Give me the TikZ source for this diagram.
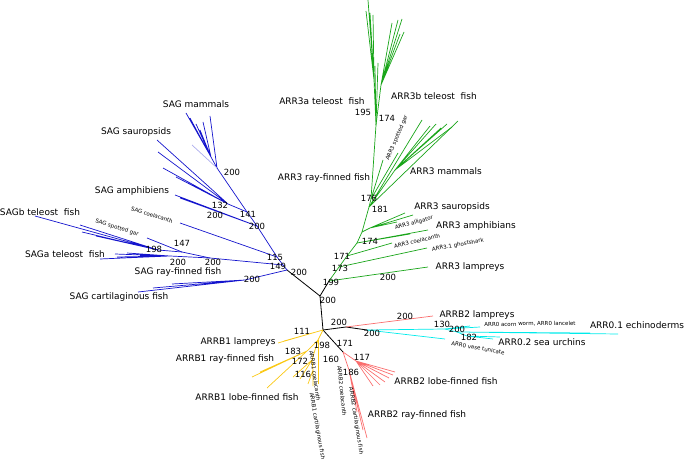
\documentclass[tikz,border=0pt]{standalone}
\usepackage{fontspec}
\setmainfont{DejaVu Sans}
\usepackage{tikz}
\usepackage{xcolor}

\definecolor{sagblue}{RGB}{20,20,205}
\definecolor{arrgreen}{RGB}{25,165,25}
\definecolor{bonered}{RGB}{250,110,110}
\definecolor{lampcyan}{RGB}{0,235,235}
\definecolor{bonegold}{RGB}{250,200,20}

\begin{document}
\begin{tikzpicture}[x=1pt, y=-1pt,
% common options for the clade labels:
clade/.style = {font=\fontsize{9}{10}\selectfont, inner sep=0},
% bootstrap values:
boot/.style = {font=\fontsize{8.5}{9}\selectfont, inner sep=0},
% small labels of single species:
spec/.style = {font=\fontsize{5.5}{6}\selectfont, inner sep=0},
% branches:
trunk/.style = {draw=black, line width=0.8pt},
sag/.style = {draw=sagblue, line width=0.7pt},
arr3/.style = {draw=arrgreen, line width=0.7pt},
arrbone/.style = {draw=bonegold, line width=0.7pt},
arrbtwo/.style = {draw=bonered, line width=0.7pt},
arrzero/.style = {draw=lampcyan, line width=0.7pt}]
\useasboundingbox (0,0) rectangle (685,462);

% centre
\coordinate (C) at (320,296);
\coordinate (S0) at (287,270);
\coordinate (A0) at (329,281);
\coordinate (B0) at (323,330);
\draw[trunk] (S0) -- (C) -- (A0);
\draw[trunk] (C) -- (B0);

% SAG
\coordinate (S1) at (283,265);
\coordinate (S2) at (277,257);
\coordinate (S3) at (257,226);
\coordinate (S4) at (247,212);
\coordinate (S5) at (217,168);
\draw[sag] (S0) -- (S1) -- (S2) -- (S3) -- (S4) -- (S5);
% SAG mammals
\coordinate (Sm) at (211,157);
\coordinate (m1) at (186,113);
\coordinate (m2) at (190,118);
\coordinate (m3) at (196,124);
\coordinate (m4) at (200,130);
\coordinate (m5) at (203,122);
\coordinate (m6) at (210,116);
\coordinate (m7) at (192,145);
\draw[sag] (S5) -- (Sm) (Sm) -- (m1) (Sm) -- (m2) (Sm) -- (m3) (Sm) -- (m4) (Sm) -- (m5) (S5) -- (m6);
\draw[sag, draw=sagblue!35] (S5) -- (m7);
% SAG sauropsids
\coordinate (Sa) at (228,204);
\coordinate (sa1) at (157,140);
\coordinate (sa2) at (158,152);
\coordinate (sa3) at (163,168);
\coordinate (sa4) at (176,177);
\draw[sag] (S4) -- (Sa) (Sa) -- (sa1) (Sa) -- (sa2) (Sa) -- (sa3) (Sa) -- (sa4);
% SAG amphibiens, coelacanth
\coordinate (am1) at (175,195);
\coordinate (am2) at (180,198);
\coordinate (co1) at (180,223);
\draw[sag] (S3) -- (am1) (S3) -- (am2);
\draw[sag] (S2) -- (co1);
% SAG ray-finned fish
\coordinate (R1) at (210,258);
\coordinate (R2) at (182,252);
\coordinate (Rb) at (158,250);
\coordinate (Ra) at (170,256);
\coordinate (gar) at (147,238);
\coordinate (sb1) at (35,216);
\coordinate (sb2) at (80,225);
\coordinate (sb3) at (82,232);
\coordinate (sb4) at (96,236);
\coordinate (sa5) at (100,259);
\coordinate (sa6) at (115,254);
\coordinate (sa7) at (117,257);
\coordinate (sa8) at (127,253);
\coordinate (sa9) at (140,256);
\draw[sag] (S1) -- (R1) -- (R2) -- (Rb);
\draw[sag] (R2) -- (gar);
\draw[sag] (Rb) -- (sb1) (Rb) -- (sb2) (Rb) -- (sb3) (Rb) -- (sb4);
\draw[sag] (R1) -- (Ra) (Ra) -- (sa5) (Ra) -- (sa6) (Ra) -- (sa7) (Ra) -- (sa8) (Ra) -- (sa9);
% SAG cartilaginous fish
\coordinate (K) at (245,280);
\coordinate (k1) at (138,292);
\coordinate (k2) at (153,288);
\coordinate (k3) at (172,284);
\draw[sag] (S0) -- (K) (K) -- (k1) (K) -- (k2) (K) -- (k3);

% ARR3
\coordinate (A1) at (339,267);
\coordinate (A2) at (347,256);
\coordinate (A3) at (357,243);
\coordinate (A4) at (362,232);
\coordinate (A5m) at (369,207);
\coordinate (A5) at (371,199);
\coordinate (A6) at (376,125);
\draw[arr3] (A0) -- (A1) -- (A2) -- (A3) -- (A4) -- (A5m) -- (A5) -- (A6);
% ARR3 teleost fish
\coordinate (Aa) at (374,80);
\coordinate (Ab) at (381,85);
\coordinate (ta1) at (368,0);
\coordinate (ta2) at (366,11);
\coordinate (ta3) at (370,13);
\coordinate (ta4) at (373,15);
\coordinate (ta5) at (378,63);
\coordinate (ta6) at (375,66);
\coordinate (tb1) at (392,23);
\coordinate (tb2) at (398,20);
\coordinate (tb3) at (402,19);
\coordinate (tb4) at (404,32);
\coordinate (tb5) at (400,34);
\draw[arr3] (A6) -- (Aa) (Aa) -- (ta1) (Aa) -- (ta2) (Aa) -- (ta3) (Aa) -- (ta4) (A6) -- (ta5) (A6) -- (ta6);
\draw[arr3] (A6) -- (Ab) (Ab) -- (tb1) (Ab) -- (tb2) (Ab) -- (tb3) (Ab) -- (tb4) (Ab) -- (tb5);
% ARR3 ray-finned fish, spotted gar
\coordinate (rf1) at (398,153);
\coordinate (rf2) at (383,160);
\draw[arr3] (A5) -- (rf1) (A5) -- (rf2);
% ARR3 mammals
\coordinate (Mm) at (395,170);
\coordinate (mm1) at (422,120);
\coordinate (mm2) at (458,121);
\coordinate (mm3) at (430,126);
\coordinate (mm4) at (436,124);
\coordinate (mm5) at (441,128);
\coordinate (mm6) at (447,124);
\coordinate (mm7) at (452,127);
\draw[arr3] (A5m) -- (mm1) (A5m) -- (mm2) (A5m) -- (Mm);
\draw[arr3] (Mm) -- (mm3) (Mm) -- (mm4) (Mm) -- (mm5) (Mm) -- (mm6) (Mm) -- (mm7);
% ARR3 sauropsids, amphibians and the rest
\coordinate (Sr) at (370,228);
\coordinate (sr1) at (413,215);
\coordinate (sr2) at (405,213);
\coordinate (all) at (397,222);
\coordinate (ap1) at (428,230);
\coordinate (ap2) at (410,234);
\coordinate (coe) at (392,243);
\coordinate (gho) at (427,248);
\coordinate (lam) at (428,267);
\draw[arr3] (A4) -- (Sr) (Sr) -- (sr1) (Sr) -- (sr2) (Sr) -- (all);
\draw[arr3] (A3) -- (ap1) (A3) -- (ap2);
\draw[arr3] (A2) -- (coe);
\draw[arr3] (A1) -- (gho);
\draw[arr3] (A0) -- (lam);

% ARRB2 lampreys and ARR0
\coordinate (B1) at (346,327);
\coordinate (c0) at (367,330);
\coordinate (lp) at (433,316);
\draw[trunk] (B0) -- (B1) -- (c0);
\draw[arrbtwo] (B1) -- (lp);
\coordinate (c1) at (445,329);
\coordinate (c2) at (457,332);
\coordinate (c3) at (467,336);
\coordinate (o1) at (470,326);
\coordinate (o2) at (480,327);
\coordinate (o3) at (618,334);
\coordinate (o4) at (590,333);
\coordinate (o5) at (565,333);
\coordinate (o6) at (500,337);
\coordinate (o7) at (493,339);
\coordinate (o8) at (445,339);
\draw[arrzero] (c0) -- (c1) (c1) -- (o1) (c1) -- (o2);
\draw[arrzero] (c1) -- (c2) (c2) -- (o3) (c2) -- (o4) (c2) -- (o5);
\draw[arrzero] (c2) -- (c3) (c3) -- (o6) (c3) -- (o7);
\draw[arrzero] (c0) -- (o8);

% ARRB2
\coordinate (r0) at (343,352);
\coordinate (r1) at (356,361);
\coordinate (r2) at (349,370);
\coordinate (lf1) at (395,372);
\coordinate (lf2) at (393,375);
\coordinate (lf3) at (389,378);
\coordinate (lf4) at (385,382);
\coordinate (lf5) at (380,385);
\coordinate (lf6) at (373,386);
\coordinate (rr1) at (367,438);
\coordinate (rr2) at (363,430);
\coordinate (rr3) at (357,412);
\draw[trunk] (B0) -- (r0);
\draw[arrbtwo] (r0) -- (r1) (r1) -- (lf1) (r1) -- (lf2) (r1) -- (lf3) (r1) -- (lf4) (r1) -- (lf5) (r1) -- (lf6);
\draw[arrbtwo] (r0) -- (r2) (r2) -- (rr1) (r2) -- (rr2) (r2) -- (rr3);

% ARRB1
\coordinate (y1) at (318,340);
\coordinate (y2) at (307,351);
\coordinate (y3) at (312,360);
\coordinate (y4) at (313,370);
\coordinate (yl1) at (278,343);
\coordinate (yl2) at (284,341);
\coordinate (yr1) at (252,377);
\coordinate (yr2) at (260,372);
\coordinate (yr3) at (267,388);
\coordinate (yo1) at (293,377);
\coordinate (yo2) at (300,379);
\coordinate (yo3) at (308,384);
\coordinate (yo4) at (313,386);
\coordinate (yc) at (318,384);
\draw[arrbone] (B0) -- (yl1) (B0) -- (yl2);
\draw[arrbone] (B0) -- (y1) -- (y2) (y2) -- (yr1) (y2) -- (yr2) (y2) -- (yr3);
\draw[arrbone] (y1) -- (y3) (y3) -- (yo1) (y3) -- (yo2) (y3) -- (y4) (y4) -- (yo3) (y4) -- (yo4);
\draw[arrbone] (y1) -- (yc);

% clade labels
\node[clade] (tSAGmam) at (196,104) {SAG mammals};
\node[clade] (tSAGsau) at (136,132) {SAG sauropsids};
\node[clade] (tSAGamp) at (132,191) {SAG amphibiens};
\node[clade] (tSAGb) at (40,212) {SAGb teleost~ fish};
\node[clade] (tSAGa) at (65,254) {SAGa teleost~ fish};
\node[clade] (tSAGray) at (178,272) {SAG ray-finned fish};
\node[clade] (tSAGcar) at (119,297) {SAG cartilaginous fish};
\node[clade] (tA3a) at (322,101) {ARR3a teleost~ fish};
\node[clade] (tA3b) at (434,96) {ARR3b teleost~ fish};
\node[clade] (tA3ray) at (324,178) {ARR3 ray-finned fish};
\node[clade] (tA3mam) at (446,171) {ARR3 mammals};
\node[clade] (tA3sau) at (452,207) {ARR3 sauropsids};
\node[clade] (tA3amp) at (476,226) {ARR3 amphibians};
\node[clade] (tA3lam) at (470,267) {ARR3 lampreys};
\node[clade] (tB2lam) at (477,315) {ARRB2 lampreys};
\node[clade] (tA01) at (637,325) {ARR0.1 echinoderms};
\node[clade] (tA02) at (542,342) {ARR0.2 sea urchins};
\node[clade] (tB2lob) at (446,381) {ARRB2 lobe-finned fish};
\node[clade] (tB2ray) at (417,415) {ARRB2 ray-finned fish};
\node[clade] (tB1lam) at (238,342) {ARRB1 lampreys};
\node[clade] (tB1ray) at (225,359) {ARRB1 ray-finned fish};
\node[clade] (tB1lob) at (247,397) {ARRB1 lobe-finned fish};

% species labels
\node[spec, rotate=-18] (sSAGcoe) at (152,215) {SAG coelacanth};
\node[spec, rotate=-17] (sSAGgar) at (117,228) {SAG spotted gar};
\node[spec, rotate=67] (sA3gar) at (397,138) {ARR3 spotted gar};
\node[spec, rotate=16] (sA3all) at (414,223) {ARR3 alligator};
\node[spec, rotate=13] (sA3coe) at (417,241) {ARR3 coelacanth};
\node[spec, rotate=10] (sA3gho) at (458,245) {ARR3.1 ghostshark};
\node[spec, rotate=1] (sA0acw) at (530,324) {ARR0 acorn worm, ARR0 lancelet};
\node[spec, rotate=-10] (sA0vas) at (478,348) {ARR0 vase tunicate};
\node[spec, rotate=-82] (sB1coe) at (315,376) {ARRB1 coelacanth};
\node[spec, rotate=-80] (sB1car) at (317,426) {ARRB1 cartilaginous fish};
\node[spec, rotate=-84] (sB2coe) at (342,391) {ARRB2 coelacanth};
\node[spec, rotate=-81] (sB2car) at (356,421) {ARRB2 cartilaginous fish};

% bootstrap values
\node[boot] (b1) at (232,172) {200};
\node[boot] (b2) at (220,205) {132};
\node[boot] (b3) at (215,215) {200};
\node[boot] (b4) at (248,214) {141};
\node[boot] (b5) at (257,226) {200};
\node[boot] (b6) at (182,243) {147};
\node[boot] (b7) at (154,249) {198};
\node[boot] (b8) at (178,262) {200};
\node[boot] (b9) at (213,262) {200};
\node[boot] (b10) at (275,257) {115};
\node[boot] (b11) at (278,266) {149};
\node[boot] (b12) at (299,272) {200};
\node[boot] (b13) at (252,279) {200};
\node[boot] (b14) at (363,112) {195};
\node[boot] (b15) at (387,118) {174};
\node[boot] (b16) at (369,198) {176};
\node[boot] (b17) at (380,209) {181};
\node[boot] (b18) at (370,241) {174};
\node[boot] (b19) at (342,256) {171};
\node[boot] (b20) at (340,268) {173};
\node[boot] (b21) at (331,282) {199};
\node[boot] (b22) at (388,277) {200};
\node[boot] (b23) at (328,300) {200};
\node[boot] (b24) at (339,322) {200};
\node[boot] (b25) at (405,316) {200};
\node[boot] (b26) at (372,333) {200};
\node[boot] (b27) at (442,324) {130};
\node[boot] (b28) at (457,329) {200};
\node[boot] (b29) at (469,337) {182};
\node[boot] (b30) at (302,331) {111};
\node[boot] (b31) at (322,345) {198};
\node[boot] (b32) at (293,351) {183};
\node[boot] (b33) at (300,361) {172};
\node[boot] (b34) at (303,374) {116};
\node[boot] (b35) at (345,343) {171};
\node[boot] (b36) at (331,359) {160};
\node[boot] (b37) at (362,357) {117};
\node[boot] (b38) at (351,372) {186};
\end{tikzpicture}
\end{document}
